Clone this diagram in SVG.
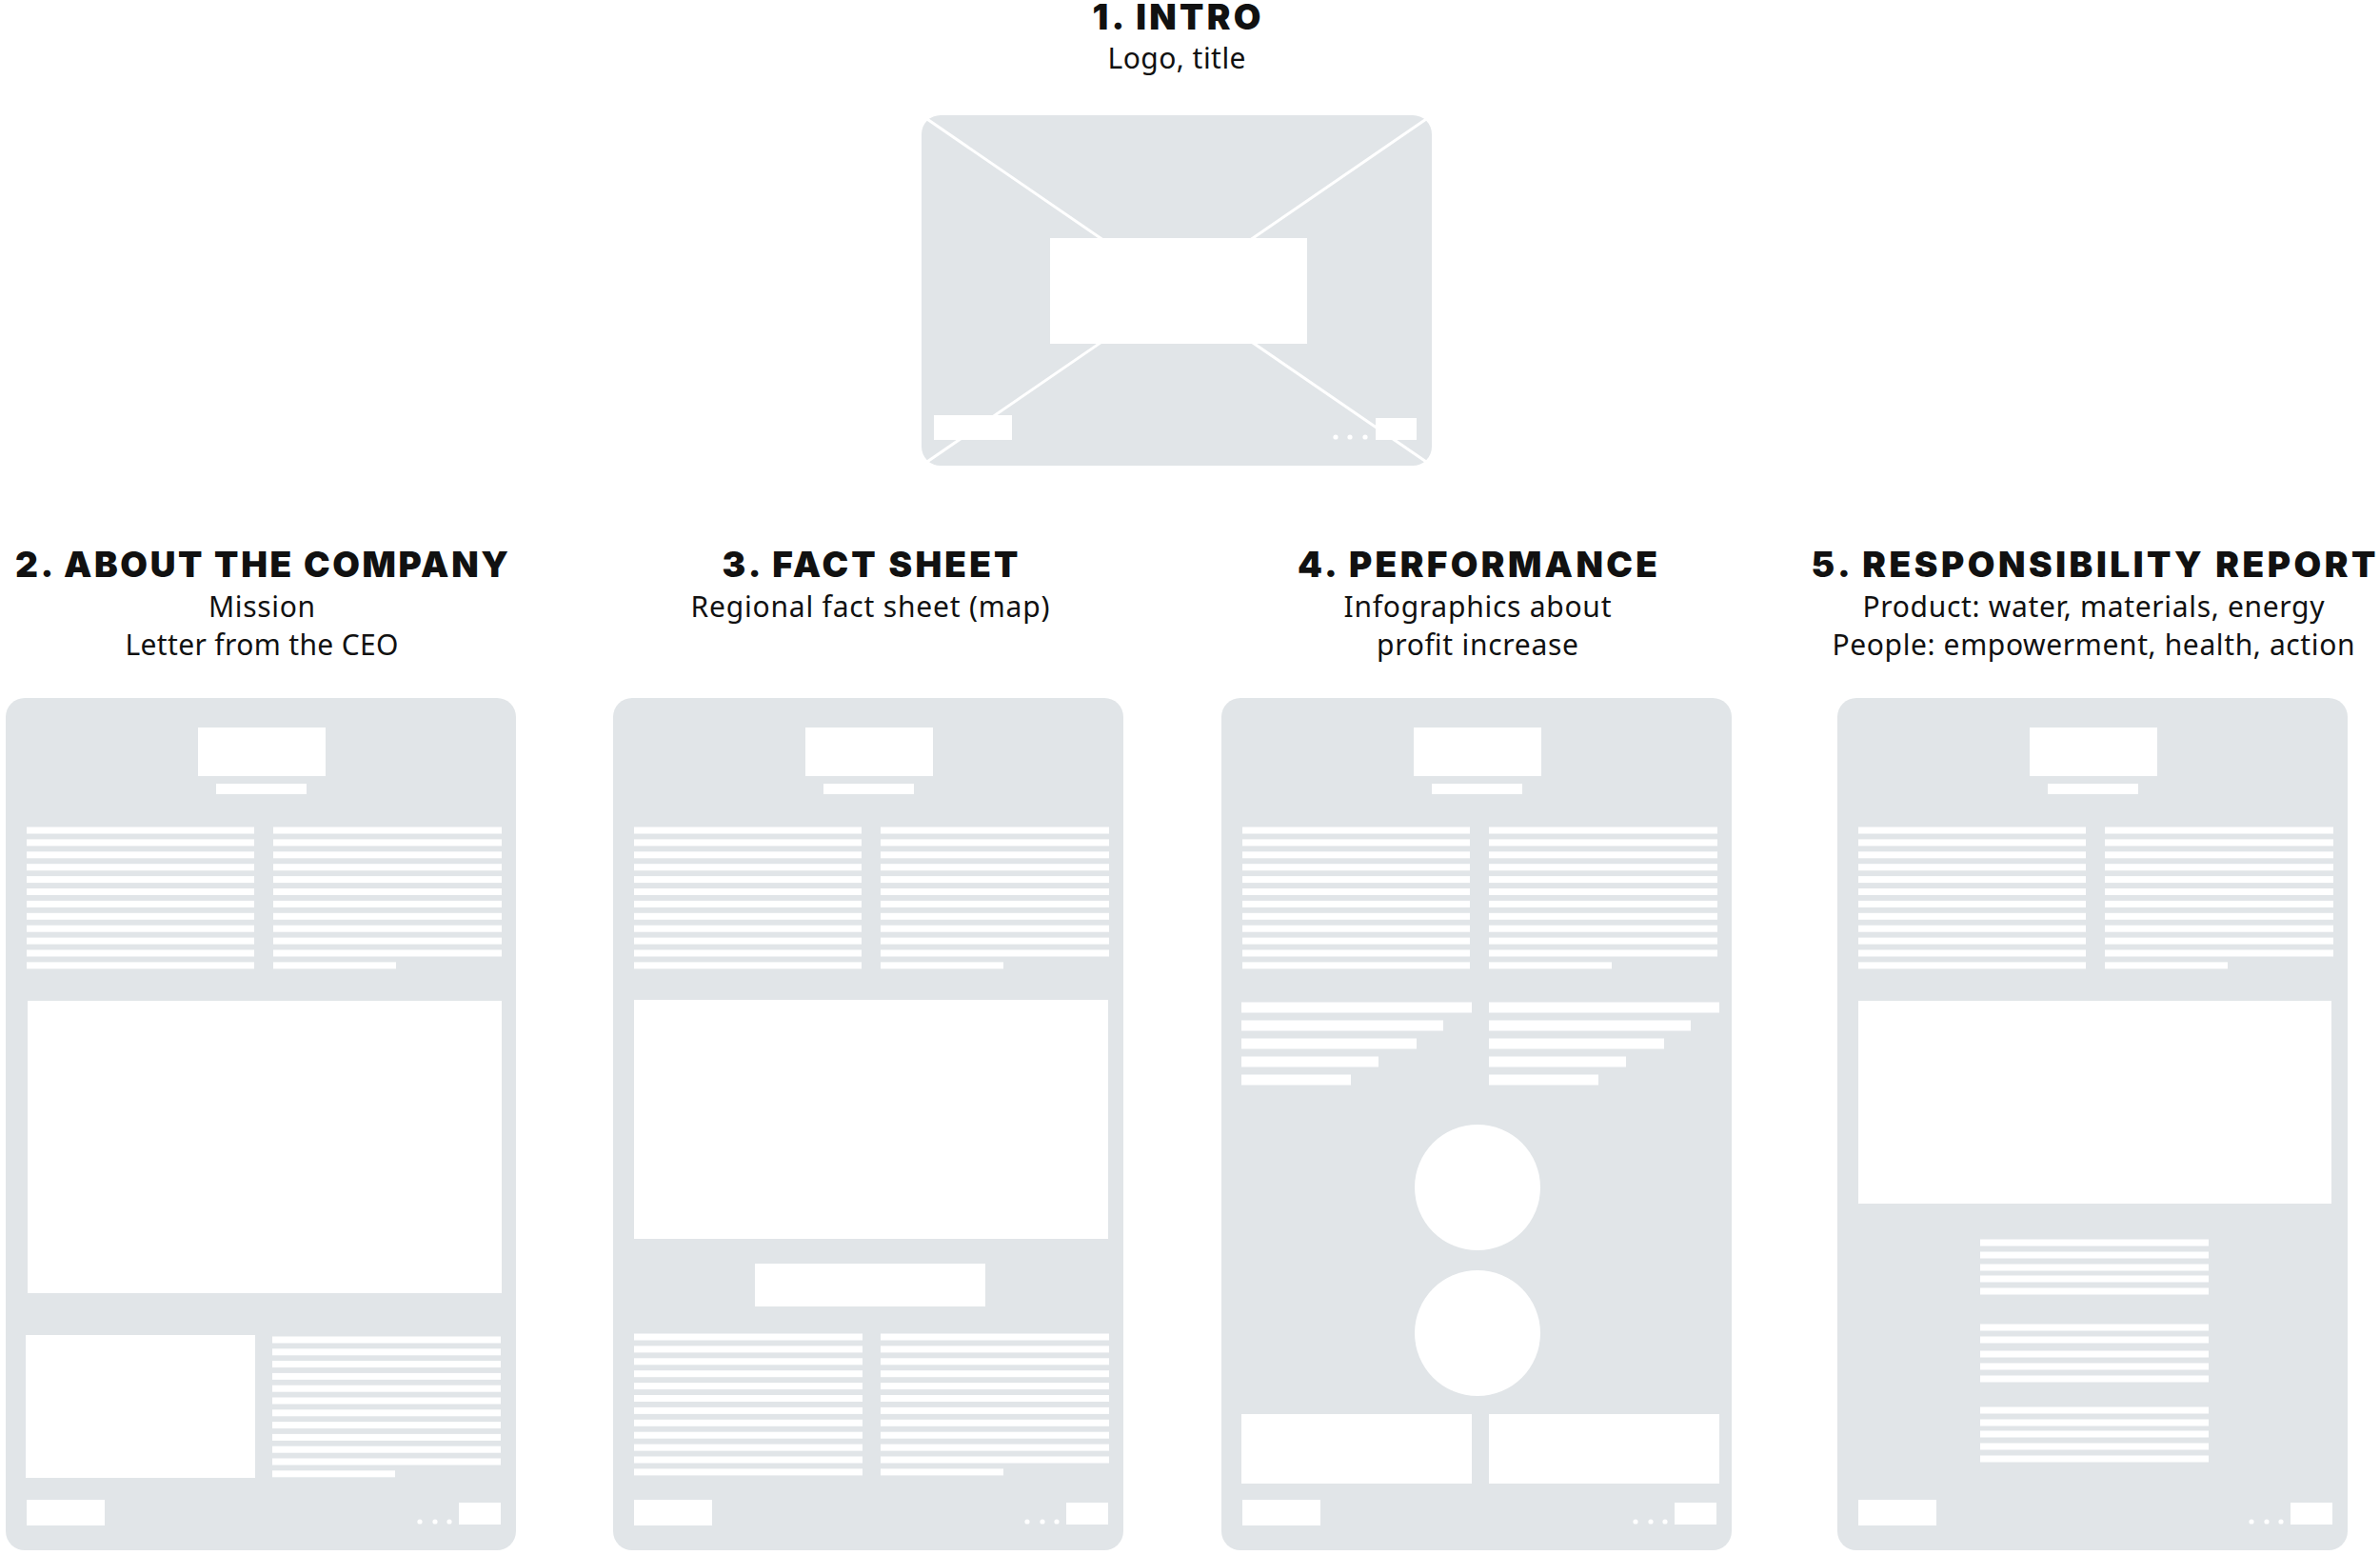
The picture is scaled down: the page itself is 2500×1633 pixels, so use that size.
<svg xmlns="http://www.w3.org/2000/svg" xmlns:xlink="http://www.w3.org/1999/xlink" width="2500" height="1633" viewBox="0 0 2500 1633">
<style>
.bg{fill:#e1e5e8}
.w{fill:#ffffff}
.t{font-family:Inter,Roboto,"Liberation Sans",sans-serif;font-weight:900;font-size:37px;fill:#111;text-anchor:middle}
.s{font-family:"Noto Sans",Lato,sans-serif;font-size:30px;fill:#111;text-anchor:middle}
.x{stroke:#ffffff;stroke-width:3;fill:none}
</style>
<defs>
<rect id="page" class="bg" x="0" y="0" width="536" height="895" rx="20"/>
<g id="hdr" class="w">
<rect x="202" y="31" width="134" height="51"/>
<rect x="221" y="90" width="95" height="11"/>
<rect x="22" y="135.5" width="239" height="7"/><rect x="281" y="135.5" width="240" height="7"/>
<rect x="22" y="148.4" width="239" height="7"/><rect x="281" y="148.4" width="240" height="7"/>
<rect x="22" y="161.3" width="239" height="7"/><rect x="281" y="161.3" width="240" height="7"/>
<rect x="22" y="174.2" width="239" height="7"/><rect x="281" y="174.2" width="240" height="7"/>
<rect x="22" y="187.1" width="239" height="7"/><rect x="281" y="187.1" width="240" height="7"/>
<rect x="22" y="200" width="239" height="7"/><rect x="281" y="200" width="240" height="7"/>
<rect x="22" y="212.9" width="239" height="7"/><rect x="281" y="212.9" width="240" height="7"/>
<rect x="22" y="225.8" width="239" height="7"/><rect x="281" y="225.8" width="240" height="7"/>
<rect x="22" y="238.7" width="239" height="7"/><rect x="281" y="238.7" width="240" height="7"/>
<rect x="22" y="251.6" width="239" height="7"/><rect x="281" y="251.6" width="240" height="7"/>
<rect x="22" y="264.5" width="239" height="7"/><rect x="281" y="264.5" width="240" height="7"/>
<rect x="22" y="277.4" width="239" height="7"/><rect x="281" y="277.4" width="129" height="7"/>
</g>
<g id="ftr" class="w">
<rect x="22" y="842" width="82" height="27"/>
<rect x="476" y="845" width="44" height="23"/>
<circle cx="435" cy="865" r="2.6"/>
<circle cx="451" cy="865" r="2.6"/>
<circle cx="466" cy="865" r="2.6"/>
</g>
</defs>

<g id="node-1-intro">
<text class="t" x="1236" y="31" textLength="177" lengthAdjust="spacing">1. INTRO</text>
<text class="s" x="1236" y="72" textLength="145" lengthAdjust="spacing">Logo, title</text>
<rect class="bg" x="968" y="121" width="536" height="368" rx="20"/>
<line class="x" x1="968" y1="121" x2="1504" y2="489"/>
<line class="x" x1="1504" y1="121" x2="968" y2="489"/>
<g class="w">
<rect x="1103" y="250" width="270" height="111"/>
<rect x="981" y="436" width="82" height="26"/>
<rect x="1445" y="439" width="43" height="23"/>
<circle cx="1403" cy="459" r="2.6"/>
<circle cx="1418" cy="459" r="2.6"/>
<circle cx="1434" cy="459" r="2.6"/>
</g>
</g>

<g id="node-2-about">
<text class="t" x="275" y="606" textLength="518" lengthAdjust="spacing">2. ABOUT THE COMPANY</text>
<text class="s" x="275" y="648" textLength="112" lengthAdjust="spacing">Mission</text>
<text class="s" x="275" y="688" textLength="287" lengthAdjust="spacing">Letter from the CEO</text>
<g transform="translate(6,733)">
<use xlink:href="#page"/>
<use xlink:href="#hdr"/>
<use xlink:href="#ftr"/>
<g class="w">
<rect x="23" y="318" width="498" height="307"/>
<rect x="21" y="669" width="241" height="150"/>
<rect x="280" y="670.5" width="240" height="7"/>
<rect x="280" y="683.3" width="240" height="7"/>
<rect x="280" y="696.1" width="240" height="7"/>
<rect x="280" y="708.9" width="240" height="7"/>
<rect x="280" y="721.7" width="240" height="7"/>
<rect x="280" y="734.5" width="240" height="7"/>
<rect x="280" y="747.3" width="240" height="7"/>
<rect x="280" y="760.1" width="240" height="7"/>
<rect x="280" y="772.9" width="240" height="7"/>
<rect x="280" y="785.7" width="240" height="7"/>
<rect x="280" y="798.5" width="240" height="7"/>
<rect x="280" y="811.3" width="129" height="7"/>
</g>
</g>
</g>

<g id="node-3-fact-sheet">
<text class="t" x="914" y="606" textLength="311" lengthAdjust="spacing">3. FACT SHEET</text>
<text class="s" x="914" y="648" textLength="377" lengthAdjust="spacing">Regional fact sheet (map)</text>
<g transform="translate(644,733)">
<use xlink:href="#page"/>
<use xlink:href="#hdr"/>
<use xlink:href="#ftr"/>
<g class="w">
<rect x="22" y="317" width="498" height="251"/>
<rect x="149" y="594" width="242" height="45"/>
<rect x="22" y="667.5" width="240" height="7"/><rect x="281" y="667.5" width="240" height="7"/>
<rect x="22" y="680.4" width="240" height="7"/><rect x="281" y="680.4" width="240" height="7"/>
<rect x="22" y="693.3" width="240" height="7"/><rect x="281" y="693.3" width="240" height="7"/>
<rect x="22" y="706.2" width="240" height="7"/><rect x="281" y="706.2" width="240" height="7"/>
<rect x="22" y="719.1" width="240" height="7"/><rect x="281" y="719.1" width="240" height="7"/>
<rect x="22" y="732" width="240" height="7"/><rect x="281" y="732" width="240" height="7"/>
<rect x="22" y="744.9" width="240" height="7"/><rect x="281" y="744.9" width="240" height="7"/>
<rect x="22" y="757.8" width="240" height="7"/><rect x="281" y="757.8" width="240" height="7"/>
<rect x="22" y="770.7" width="240" height="7"/><rect x="281" y="770.7" width="240" height="7"/>
<rect x="22" y="783.6" width="240" height="7"/><rect x="281" y="783.6" width="240" height="7"/>
<rect x="22" y="796.5" width="240" height="7"/><rect x="281" y="796.5" width="240" height="7"/>
<rect x="22" y="809.4" width="240" height="7"/><rect x="281" y="809.4" width="129" height="7"/>
</g>
</g>
</g>

<g id="node-4-performance">
<text class="t" x="1552" y="606" textLength="378" lengthAdjust="spacing">4. PERFORMANCE</text>
<text class="s" x="1552" y="648" textLength="281" lengthAdjust="spacing">Infographics about</text>
<text class="s" x="1552" y="688" textLength="212" lengthAdjust="spacing">profit increase</text>
<g transform="translate(1283,733)">
<use xlink:href="#page"/>
<use xlink:href="#hdr"/>
<use xlink:href="#ftr"/>
<g class="w">
<rect x="21" y="319.5" width="242" height="11"/><rect x="281" y="319.5" width="242" height="11"/>
<rect x="21" y="338.5" width="212" height="11"/><rect x="281" y="338.5" width="212" height="11"/>
<rect x="21" y="357.5" width="184" height="11"/><rect x="281" y="357.5" width="184" height="11"/>
<rect x="21" y="376.5" width="144" height="11"/><rect x="281" y="376.5" width="144" height="11"/>
<rect x="21" y="395.5" width="115" height="11"/><rect x="281" y="395.5" width="115" height="11"/>
<circle cx="269" cy="514" r="66"/>
<circle cx="269" cy="667" r="66"/>
<rect x="21" y="752" width="242" height="73"/>
<rect x="281" y="752" width="242" height="73"/>
</g>
</g>
</g>

<g id="node-5-responsibility">
<text class="t" x="2199" y="606" textLength="593" lengthAdjust="spacing">5. RESPONSIBILITY REPORT</text>
<text class="s" x="2199" y="648" textLength="485" lengthAdjust="spacing">Product: water, materials, energy</text>
<text class="s" x="2199" y="688" textLength="549" lengthAdjust="spacing">People: empowerment, health, action</text>
<g transform="translate(1930,733)">
<use xlink:href="#page"/>
<use xlink:href="#hdr"/>
<use xlink:href="#ftr"/>
<g class="w">
<rect x="22" y="318" width="497" height="213"/>
<rect x="150" y="568.5" width="240" height="7"/>
<rect x="150" y="581.5" width="240" height="7"/>
<rect x="150" y="594.5" width="240" height="7"/>
<rect x="150" y="606.5" width="240" height="7"/>
<rect x="150" y="619.5" width="240" height="7"/>
<rect x="150" y="657.5" width="240" height="7"/>
<rect x="150" y="670.5" width="240" height="7"/>
<rect x="150" y="685.5" width="240" height="7"/>
<rect x="150" y="698.5" width="240" height="7"/>
<rect x="150" y="711.5" width="240" height="7"/>
<rect x="150" y="744.5" width="240" height="7"/>
<rect x="150" y="757.5" width="240" height="7"/>
<rect x="150" y="769.5" width="240" height="7"/>
<rect x="150" y="782.5" width="240" height="7"/>
<rect x="150" y="795.5" width="240" height="7"/>
</g>
</g>
</g>

<g id="connectors"/>
</svg>
